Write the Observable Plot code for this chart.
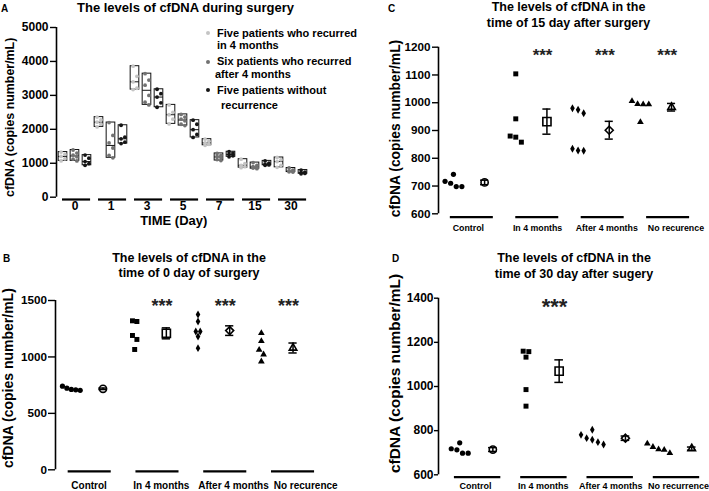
<!DOCTYPE html>
<html>
<head>
<meta charset="utf-8">
<script src="https://cdn.jsdelivr.net/npm/d3@7"></script>
<script src="https://cdn.jsdelivr.net/npm/@observablehq/plot@0.6"></script>
<style>
html,body{margin:0;padding:0;background:#fff;}
#wrap{position:relative;width:709px;height:491px;overflow:hidden;font-family:"Liberation Sans",Arial,sans-serif;font-weight:bold;color:#000;}
#wrap > *{position:absolute;}
.t{white-space:nowrap;text-align:center;}
.lg{white-space:nowrap;font-size:11px;line-height:13px;}
.dot{width:4.4px;height:4.4px;border-radius:50%;}
</style>
</head>
<body>
<div id="wrap"></div>
<script>
// ---------------- DATA ----------------
// Panel A: cfDNA during surgery (copies number/mL), per day, per patient
const daysA = ["0", "1", "3", "5", "7", "15", "30"];
const seriesA = ["Five patients who recurred in 4 months", "Six patients who recurred after 4 months", "Five patients without recurrence"];
const legendLinesA = [["Five patients who recurred", "in 4 months"], ["Six patients who recurred", "after 4 months"], ["Five patients without", "recurrence"]];
const recurIn4A = [
  [1330, 1260, 1200, 1130, 1070],
  [2360, 2280, 2210, 2150, 2070],
  [3860, 3560, 3400, 3210, 3170],
  [2720, 2500, 2430, 2300, 2160],
  [1710, 1650, 1600, 1560, 1530],
  [1120, 990, 940, 900, 870],
  [1170, 1100, 1050, 940, 880]
];
const recurAfter4A = [
  [1390, 1300, 1240, 1190, 1120, 1070],
  [2200, 1820, 1600, 1450, 1230, 1160],
  [3640, 3450, 3300, 3000, 2800, 2720],
  [2440, 2360, 2300, 2250, 2150, 2110],
  [1290, 1230, 1200, 1170, 1110, 1080],
  [1020, 940, 900, 880, 860, 840],
  [860, 800, 770, 760, 750, 740]
];
const noRecurA = [
  [1240, 1150, 1050, 990, 940],
  [2120, 1770, 1720, 1620, 1580],
  [3180, 3050, 2950, 2780, 2650],
  [2270, 2150, 1990, 1850, 1760],
  [1340, 1300, 1260, 1220, 1190],
  [1070, 1000, 970, 950, 940],
  [800, 740, 720, 700, 690]
];
const ticksA = [0, 1000, 2000, 3000, 4000, 5000];

// Panel B: day 0 of surgery
const groupsB = ["Control", "In 4 months", "After 4 months", "No recurence"];
const day0Control = [741, 723, 709, 704, 712];
const day0In4 = [1314, 1320, 1190, 1155, 1066];
const day0After4 = [1314, 1376, 1225, 1181, 1225, 1078];
const day0NoRec = [1211, 1140, 1063, 1022, 960];
const starsB = ["", "***", "***", "***"];
const ticksB = [0, 500, 1000, 1500];

// Panel C: 15 days after surgery
const groupsC = ["Control", "In 4 months", "After 4 months", "No recurence"];
const day15Control = [710, 698, 742, 698, 717];
const day15In4 = [1104, 942, 880, 858, 876];
const day15After4 = [975, 962, 980, 834, 828, 827];
const day15NoRec = [1006, 994, 994, 995, 930];
const starsC = ["", "***", "***", "***"];
const ticksC = [600, 700, 800, 900, 1000, 1100, 1200];

// Panel D: 30 days after surgery
const groupsD = ["Control", "In 4 months", "After 4 months", "No recurrence"];
const day30Control = [713, 698, 698, 718, 745];
const day30In4 = [1160, 1133, 1158, 986, 911];
const day30After4 = [781, 804, 759, 766, 748, 737];
const day30NoRec = [715, 698, 741, 713, 726];
const starsD = ["", "***", "", ""];
const ticksD = [600, 800, 1000, 1200, 1400];

const yLabel = "cfDNA (copies number/mL)";

// ---------------- HELPERS ----------------
const W = document.getElementById("wrap");
const FONT = "'Liberation Sans', Arial, Helvetica, sans-serif";
const baseStyle = {fontFamily: FONT, fontWeight: "bold", color: "#000", background: "transparent", overflow: "visible"};

function put(el, left, top) { el.style.left = left + "px"; el.style.top = top + "px"; W.appendChild(el); return el; }
function html(text, left, top, css, cls) {
  const d = document.createElement("div");
  d.className = cls || "";
  d.innerHTML = text;
  d.style.cssText += css || "";
  return put(d, left, top);
}
function centered(lines, cx, top, fontSize, lineHeight) {
  const w = 260;
  html(lines.join("<br>"), cx - w / 2, top, `width:${w}px;font-size:${fontSize}px;line-height:${lineHeight}px;`, "t");
}

// symmetric horizontal spread of points whose values lie closer than thr
function spread(vals, thr) {
  const order = d3.range(vals.length).sort((a, b) => vals[b] - vals[a]);
  const off = new Array(vals.length).fill(0);
  let cluster = [];
  const flush = () => { cluster.forEach((i, j) => off[i] = j - (cluster.length - 1) / 2); cluster = []; };
  for (const i of order) {
    if (cluster.length && vals[cluster[cluster.length - 1]] - vals[i] >= thr) flush();
    cluster.push(i);
  }
  flush();
  return off;
}

// ---------------- PANEL A ----------------
(function () {
  const rows = [], summ = [];
  [recurIn4A, recurAfter4A, noRecurA].forEach((ser, si) => ser.forEach((vals, gi) => {
    const pos = gi * 3 + si;
    const order = d3.range(vals.length).sort((a, b) => vals[b] - vals[a]);
    order.forEach((k, r) => rows.push({series: seriesA[si], v: vals[k], x: pos + (r % 2 ? 0.16 : -0.16)}));
    summ.push({pos, min: d3.min(vals), max: d3.max(vals), median: d3.median(vals)});
  }));
  const xLo = -0.54;
  const hw = 0.36;
  const svg = Plot.plot({
    width: 360, height: 240,
    marginTop: 27, marginBottom: 43.3, marginLeft: 56, marginRight: 45.5,
    style: baseStyle,
    x: {domain: [xLo, 21], axis: null},
    y: {domain: [0, 5000]},
    color: {domain: seriesA, range: ["#c4c4c4", "#727272", "#151515"]},
    marks: [
      Plot.ruleX([xLo], {stroke: "#000", strokeWidth: 1.6}),
      Plot.axisY({ticks: ticksA, tickFormat: d3.format("d"), tickSize: 6, tickPadding: 2, fontSize: 12, strokeWidth: 1.4, label: null}),
      Plot.text([yLabel], {frameAnchor: "left", textAnchor: "middle", rotate: -90, dx: -46, dy: 5, fontSize: 12.4, fill: "#000"}),
      Plot.rect(summ, {x1: d => d.pos - hw, x2: d => d.pos + hw, y1: "min", y2: "max", fill: "white", stroke: "#111", strokeWidth: 1}),
      Plot.ruleY(summ, {y: "median", x1: d => d.pos - hw, x2: d => d.pos + hw, stroke: "#111", strokeWidth: 1}),
      Plot.dot(rows, {x: "x", y: "v", fill: "series", r: 1.9}),
      Plot.ruleY(daysA, {x1: (d, i) => i * 3 - 0.04, x2: (d, i) => i * 3 + 2.3, y: () => 0, dy: 2.3, stroke: "#000", strokeWidth: 2.2}),
      Plot.text(daysA, {x: (d, i) => i * 3 + 1, frameAnchor: "bottom", dy: 12.5, fontSize: 12, fill: "#000"}),
      Plot.text(["TIME (Day)"], {frameAnchor: "bottom", dx: -12, dy: 27.5, fontSize: 13, fill: "#000"})
    ]
  });
  put(svg, 0, 0);
  // legend
  const colors = ["#c4c4c4", "#727272", "#151515"];
  const tops = [33.3, 61.7, 90];
  const secondIndent = [217, 215, 221];
  legendLinesA.forEach((ln, i) => {
    const b = document.createElement("div"); b.className = "dot"; b.style.background = colors[i];
    put(b, 205.8, tops[i] - 2.2);
    html(ln[0], 217, tops[i] - 6.5, "", "lg");
    html(ln[1], secondIndent[i], tops[i] + (i === 2 ? 15 : 12.5) - 6.5, "", "lg");
  });
})();

// ---------------- PANELS B, C, D ----------------
function scatterPanel(o) {
  const rows = [], summ = [];
  o.series.forEach((vals, gi) => {
    const off = spread(vals, o.thr);
    vals.forEach((v, k) => rows.push({gi, v, x: gi + off[k] * o.slot}));
    const m = d3.mean(vals), se = d3.deviation(vals) / Math.sqrt(vals.length);
    summ.push({gi, x: gi + 0.5, mean: m, lo: m - se, hi: m + se});
  });
  const pts = ["circle", "square", "diamond", "triangle"];
  const ptsR = [2.6, 2.8, 2.4, 2.5];
  const means = ["circle", "square", "diamond2", "triangle2"];
  const meansR = [3.6, 4.6, 3.6, 3.6];
  const cap = 0.065;
  const starRows = o.stars.map((s, i) => ({i, s})).filter(d => d.s);
  const svg = Plot.plot({
    width: o.width, height: o.height,
    marginTop: o.mt, marginBottom: o.mb, marginLeft: o.ml, marginRight: o.mr,
    style: baseStyle,
    x: {domain: o.xDomain, axis: null},
    y: {domain: o.yDomain},
    marks: [
      Plot.ruleX([o.xDomain[0]], {stroke: "#000", strokeWidth: 1.6}),
      Plot.axisY({ticks: o.ticks, tickFormat: d3.format("d"), tickSize: o.tickSize, tickPadding: o.tickPadding, fontSize: o.tickFont, strokeWidth: 1.4, label: null}),
      Plot.text([yLabel], {frameAnchor: "left", textAnchor: "middle", rotate: -90, dx: o.ylDx, dy: o.ylDy, fontSize: o.ylFont, fill: "#000"}),
      Plot.ruleY(o.groups, {x1: (d, i) => o.line0 + i * o.lineStep, x2: (d, i) => o.line0 + i * o.lineStep + o.lineLen, y: () => o.yDomain[0], dy: o.lineDy, stroke: "#000", strokeWidth: 2.2}),
      Plot.text(o.groups, {x: (d, i) => o.lab0 + i * o.labStep, frameAnchor: "bottom", dy: o.labDy, fontSize: o.labFont, fill: "#000"}),
      ...pts.map((s, gi) => Plot.dot(rows.filter(r => r.gi === gi), {x: "x", y: "v", symbol: s, fill: "#000", r: ptsR[gi]})),
      Plot.ruleX(summ, {x: "x", y1: "lo", y2: "hi", stroke: "#000", strokeWidth: 1.5}),
      Plot.ruleY(summ, {y: "lo", x1: d => d.x - cap, x2: d => d.x + cap, stroke: "#000", strokeWidth: 1.5}),
      Plot.ruleY(summ, {y: "hi", x1: d => d.x - cap, x2: d => d.x + cap, stroke: "#000", strokeWidth: 1.5}),
      ...means.map((s, gi) => Plot.dot(summ.filter(d => d.gi === gi), {x: "x", y: "mean", symbol: s, fill: "none", stroke: "#000", strokeWidth: 1.6, r: meansR[gi]})),
      Plot.text(starRows, {x: d => d.i + 0.43, y: () => o.yDomain[1], text: "s", dy: o.starDy, fontSize: o.starFont, fill: "#222"})
    ]
  });
  put(svg, o.left, o.top);
}

scatterPanel({
  left: 0, top: 240, width: 360, height: 251, mt: 60, mb: 21.7, ml: 55, mr: 35.8,
  xDomain: [-0.25, 4], yDomain: [0, 1500], ticks: ticksB, tickSize: 7, tickPadding: 1.5, tickFont: 11.7,
  groups: groupsB, series: [day0Control, day0In4, day0After4, day0NoRec], stars: starsB,
  thr: 44, slot: 0.07,
  ylDx: -47, ylDy: -7, ylFont: 14,
  line0: -0.05, lineStep: 1.07, lineLen: 0.68, lineDy: 1.5,
  lab0: 0.28, labStep: 1.14, labDy: 18.7, labFont: 10,
  starDy: 6.2, starFont: 18
});
scatterPanel({
  left: 360, top: 0, width: 349, height: 245, mt: 46.7, mb: 31.7, ml: 78, mr: 6.8,
  xDomain: [-0.24, 4], yDomain: [600, 1200], ticks: ticksC, tickSize: 6, tickPadding: 2, tickFont: 11.7,
  groups: groupsC, series: [day15Control, day15In4, day15After4, day15NoRec], stars: starsC,
  thr: 22, slot: 0.09,
  ylDx: -43, ylDy: -2, ylFont: 13.8,
  line0: -0.05, lineStep: 1.05, lineLen: 0.69, lineDy: 3.4,
  lab0: 0.24, labStep: 1.11, labDy: 16.7, labFont: 8.8,
  starDy: 8.3, starFont: 17
});
scatterPanel({
  left: 360, top: 240, width: 349, height: 251, mt: 57.7, mb: 16.7, ml: 78, mr: 1.2,
  xDomain: [-0.32, 3.75], yDomain: [600, 1400], ticks: ticksD, tickSize: 4, tickPadding: 1, tickFont: 12,
  groups: groupsD, series: [day30Control, day30In4, day30After4, day30NoRec], stars: starsD,
  thr: 23, slot: 0.085,
  ylDx: -43, ylDy: -13, ylFont: 15.5,
  line0: -0.08, lineStep: 1.0, lineLen: 0.7, lineDy: 2.4,
  lab0: 0.24, labStep: 1.02, labDy: 13.7, labFont: 9,
  starDy: 8.8, starFont: 22
});

// ---------------- TITLES & PANEL LETTERS ----------------
centered(["The levels of cfDNA during surgery"], 185.5, 0, 13, 15);
centered(["The levels of cfDNA in the", "time of 0 day of surgery"], 189, 250.5, 12.5, 15);
centered(["The levels of cfDNA in the", "time of 15 day after surgery"], 568.5, -1.5, 12.5, 16);
centered(["The levels of cfDNA in the", "time of 30 day after sugery"], 574, 250, 12.5, 16);
html("A", 1, 3, "font-size:10px;line-height:12px;");
html("B", 3, 253, "font-size:10px;line-height:12px;");
html("C", 388, 3, "font-size:10px;line-height:12px;");
html("D", 392, 253, "font-size:10px;line-height:12px;");
</script>
</body>
</html>
